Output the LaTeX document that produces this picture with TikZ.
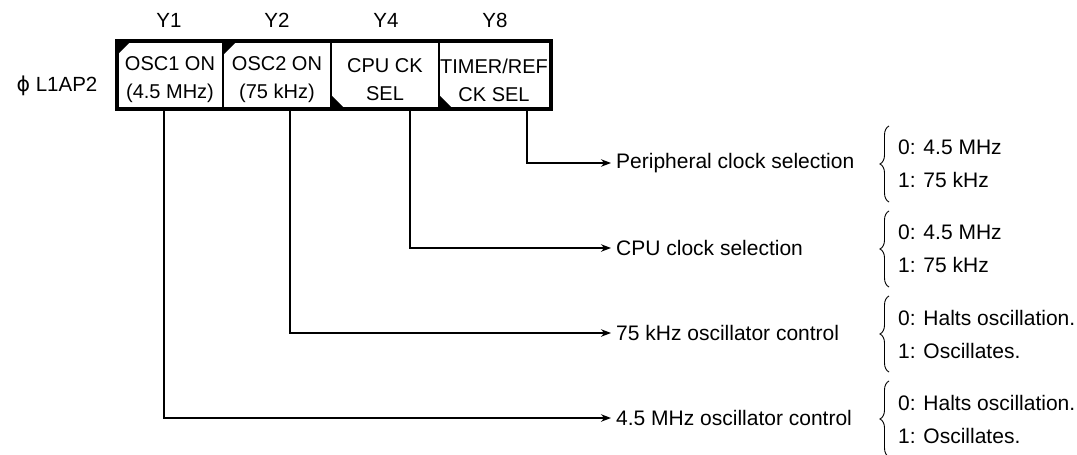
\documentclass[tikz,border=0pt]{standalone}
\usepackage{fontspec}
\setmainfont{Liberation Sans}
\newfontfamily\djv{DejaVu Sans}
\usetikzlibrary{arrows.meta,decorations.pathreplacing}
\begin{document}
\begin{tikzpicture}[x=1pt,y=-1pt,
  txt/.style={font=\fontsize{20.5}{24}\selectfont, inner sep=0pt},
  cell/.style={font=\fontsize{20}{28}\selectfont, align=center, inner sep=0pt},
  lbl/.style={font=\fontsize{21}{24}\selectfont, anchor=west, inner sep=5pt},
  opt/.style={font=\fontsize{21}{33}\selectfont, anchor=west, align=left, inner sep=0pt},
  conn/.style={line width=1.3pt, -{Stealth[length=10pt,width=7.5pt]}},
  brc/.style={line width=0.9pt, decorate, decoration={brace, amplitude=9pt}},
  corner/.style={fill=black}]
\useasboundingbox (0,0) rectangle (1077,455);
% register labels
\node[txt] (y1) at (169,20) {Y1};
\node[txt] (y2) at (277,20) {Y2};
\node[txt] (y4) at (386,20) {Y4};
\node[txt] (y8) at (495,20) {Y8};
\node[txt] (reg) at (57,86) {{\djv ϕ} L1AP2};
% cells
\node[cell] (c1) at (170,80) {OSC1 ON\\(4.5 MHz)};
\node[cell] (c2) at (277,80) {OSC2 ON\\(75 kHz)};
\node[cell] (c3) at (385,80) {CPU CK\\SEL};
\node[cell] (c4) at (494,80) {TIMER/REF\\CK SEL};
% corner triangles
\fill[corner] (117,41) -- (131,41) -- (117,55) -- cycle;
\fill[corner] (223,41) -- (237,41) -- (223,55) -- cycle;
\fill[corner] (331,109) -- (345,109) -- (331,95) -- cycle;
\fill[corner] (439,109) -- (453,109) -- (439,95) -- cycle;
% dividers and frame
\draw[line width=2pt] (223,41) -- (223,109);
\draw[line width=2pt] (331,41) -- (331,109);
\draw[line width=2pt] (439,41) -- (439,109);
\draw[line width=4pt] (117,41) rectangle (551,109);
% tap points
\coordinate (b1) at (164,111);
\coordinate (b2) at (290,111);
\coordinate (b4) at (410,111);
\coordinate (b8) at (527,111);
% function labels
\node[lbl] (f8) at (611,163) {Peripheral clock selection};
\node[lbl] (f4) at (611,248) {CPU clock selection};
\node[lbl] (f2) at (611,333) {75 kHz oscillator control};
\node[lbl] (f1) at (611,418) {4.5 MHz oscillator control};
\draw[conn] (b8) |- (f8.west);
\draw[conn] (b4) |- (f4.west);
\draw[conn] (b2) |- (f2.west);
\draw[conn] (b1) |- (f1.west);
% braces and options
\coordinate (p8b) at (889,202); \coordinate (p8t) at (889,126);
\coordinate (p4b) at (889,287); \coordinate (p4t) at (889,211);
\coordinate (p2b) at (889,372); \coordinate (p2t) at (889,296);
\coordinate (p1b) at (889,457); \coordinate (p1t) at (889,381);
\draw[brc] (p8b) -- (p8t);
\draw[brc] (p4b) -- (p4t);
\draw[brc] (p2b) -- (p2t);
\draw[brc] (p1b) -- (p1t);
\node[opt] (o8) at (898,164) {0: 4.5 MHz\\1: 75 kHz};
\node[opt] (o4) at (898,249) {0: 4.5 MHz\\1: 75 kHz};
\node[opt] (o2) at (898,334) {0: Halts oscillation.\\1: Oscillates.};
\node[opt] (o1) at (898,419) {0: Halts oscillation.\\1: Oscillates.};
\end{tikzpicture}
\end{document}
